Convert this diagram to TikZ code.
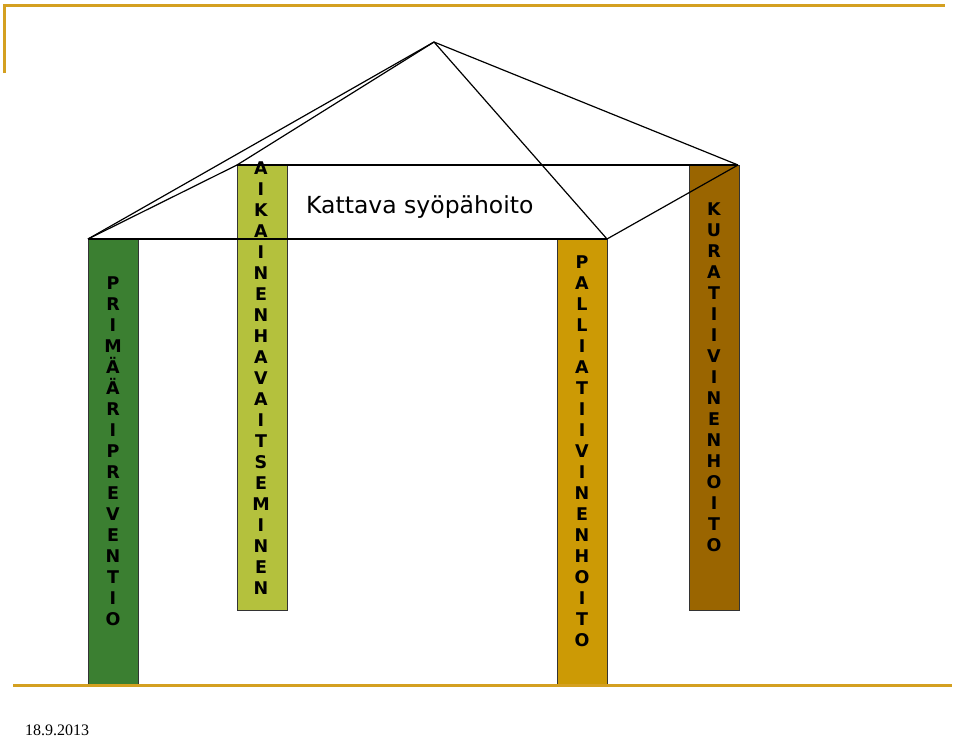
\documentclass[tikz,border=0pt]{standalone}
\usepackage{fontspec}
\newfontfamily\barfont{DejaVu Sans}
\newfontfamily\titlefont{DejaVu Sans}
\newfontfamily\datefont{Liberation Serif}
\definecolor{gold}{HTML}{D4A020}
\definecolor{cprim}{HTML}{3B7F31}
\definecolor{caika}{HTML}{B4C13D}
\definecolor{cpall}{HTML}{CC9A05}
\definecolor{ckura}{HTML}{9A6500}
\begin{document}
\begin{tikzpicture}[x=1pt,y=-1pt,
  bar/.style={draw=black!80, line width=1pt, minimum width=50pt, anchor=north west, inner sep=0pt},
  letters/.style={anchor=north, align=center, inner sep=0pt,
    font={\barfont\bfseries\fontsize{17.5}{21}\selectfont}},
  edge/.style={draw=black, line width=1.2pt},
  goldline/.style={draw=gold, line width=3pt}]
\useasboundingbox (0,0) rectangle (960,737);
\fill[white] (0,0) rectangle (960,737);
% frame lines
\coordinate (t1) at (3,5); \coordinate (t2) at (945,5); \coordinate (t3) at (4,73);
\draw[goldline] (t3) -- (t1 -| t3) -- (t2);
% bars
\node[bar, fill=cprim, minimum height=446pt] (prim) at (88,239) {};
\node[bar, fill=caika, minimum height=445pt] (aika) at (237,165) {};
\node[bar, fill=cpall, minimum height=446pt] (pall) at (557,239) {};
\node[bar, fill=ckura, minimum height=445pt] (kura) at (689,165) {};
\node[letters] (lprim) at (113,277) {P\\R\\I\\M\\Ä\\Ä\\R\\I\\P\\R\\E\\V\\E\\N\\T\\I\\O};
\node[letters] (laika) at (261,162) {A\\I\\K\\A\\I\\N\\E\\N\\H\\A\\V\\A\\I\\T\\S\\E\\M\\I\\N\\E\\N};
\node[letters] (lpall) at (582,256) {P\\A\\L\\L\\I\\A\\T\\I\\I\\V\\I\\N\\E\\N\\H\\O\\I\\T\\O};
\node[letters] (lkura) at (714,203) {K\\U\\R\\A\\T\\I\\I\\V\\I\\N\\E\\N\\H\\O\\I\\T\\O};
% roof
\coordinate (apex) at (434,42);
\coordinate (fl) at (88,239);
\coordinate (fr) at (607,239);
\coordinate (bl) at (237,165);
\coordinate (br) at (738,165);
\draw[edge] (apex) -- (fl);
\draw[edge] (apex) -- (bl);
\draw[edge] (apex) -- (fr);
\draw[edge] (apex) -- (br);
\draw[edge] (fl) -- (bl);
\draw[edge] (fr) -- (br);
\draw[edge] (fl) -- (fr);
\draw[edge] (bl) -- (br);
% title
\node[anchor=base west, inner sep=0pt, font={\titlefont\fontsize{23.5}{28}\selectfont}] (title) at (306,213) {Kattava syöpähoito};
% bottom line
\coordinate (b1) at (13,685); \coordinate (b2) at (952,685);
\draw[goldline] (b1) -- (b2);
\node[anchor=base west, inner sep=0pt, font={\datefont\fontsize{16}{19}\selectfont}] (date) at (25,735) {18.9.2013};
\end{tikzpicture}
\end{document}
